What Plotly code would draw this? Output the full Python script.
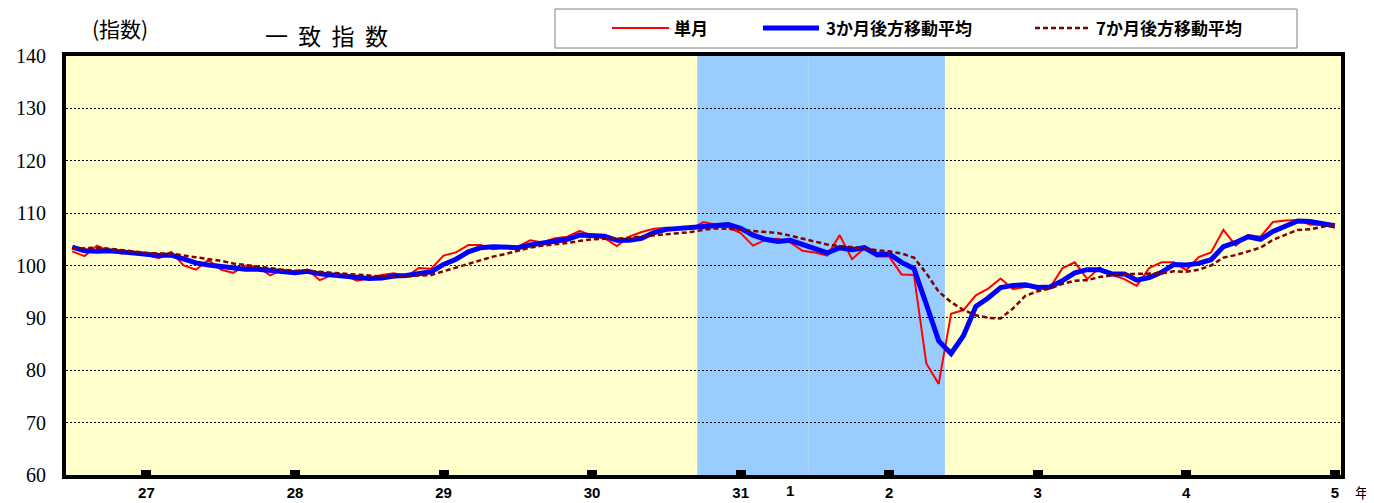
import pandas as pd
import plotly.graph_objects as go

# ---- data -------------------------------------------------------------
months = [p.strftime("%Y-%m") for p in pd.period_range("2014-07", "2023-01", freq="M")]

single_month = [
    102.7, 101.8, 103.8, 102.7, 102.3, 102.5, 102.0, 101.4, 102.6, 100.0,
    99.2, 101.1, 99.2, 98.6, 100.0, 99.7, 98.1, 99.2, 98.6, 99.2,
    97.2, 98.2, 98.1, 97.1, 97.6, 98.2, 98.5, 97.9, 99.5, 99.4,
    101.9, 102.5, 103.9, 103.9, 103.1, 103.5, 103.6, 104.8, 104.4, 105.2,
    105.5, 106.6, 105.7, 105.2, 103.7, 105.5, 106.4, 107.0, 107.2, 107.1,
    107.0, 108.3, 107.8, 107.3, 106.2, 103.8, 104.9, 105.1, 104.4, 102.8,
    102.5, 101.9, 105.8, 101.2, 103.3, 101.7, 101.7, 98.3, 98.2, 81.3,
    77.4, 90.8, 91.5, 94.3, 95.6, 97.5, 95.5, 95.9, 95.9, 95.8,
    99.5, 100.6, 97.4, 99.6, 98.2, 97.4, 96.1, 99.5, 100.6, 100.6,
    99.1, 101.6, 102.5, 106.8, 103.8, 105.8, 105.5, 108.3, 108.6, 108.7,
    107.8, 107.8, 107.2,
]

ma3 = [
    103.5, 102.8, 102.7, 102.8, 102.6, 102.4, 102.2, 101.9, 102.0, 101.2,
    100.5, 100.1, 99.8, 99.5, 99.3, 99.3, 99.0, 98.9, 98.6, 98.9,
    98.4, 98.2, 97.9, 97.7, 97.5, 97.6, 98.0, 98.1, 98.5, 98.8,
    100.2, 101.2, 102.6, 103.4, 103.6, 103.5, 103.4, 103.9, 104.2, 104.7,
    105.0, 105.8, 105.8, 105.6, 104.8, 104.8, 105.2, 106.3, 106.9, 107.1,
    107.1, 107.4, 107.7, 107.8, 107.1, 105.8, 105.0, 104.6, 104.8, 104.1,
    103.2, 102.4, 103.4, 103.0, 103.4, 102.1, 102.2, 100.6, 99.4, 92.6,
    85.6, 83.2, 86.6, 92.2, 93.8, 95.8, 96.2, 96.3, 95.8, 95.9,
    97.1, 98.6, 99.2, 99.2, 98.4, 98.4, 97.2, 97.7, 98.7, 100.2,
    100.1, 100.4, 101.1, 103.6, 104.4, 105.5, 105.0, 106.5, 107.5, 108.5,
    108.4, 108.1, 107.6,
]

ma7 = [
    103.2, 103.3, 103.4, 103.2, 102.9, 102.6, 102.4, 102.3, 102.3, 101.9,
    101.6, 101.3, 100.9, 100.4, 100.1, 99.7, 99.4, 99.2, 99.0, 99.0,
    98.8, 98.6, 98.4, 98.2, 98.0, 97.9, 97.8, 97.9, 98.1, 98.2,
    98.9, 99.6, 100.3, 101.0, 101.7, 102.2, 102.8, 103.4, 103.8, 104.0,
    104.3, 104.7, 105.0, 105.1, 105.1, 105.3, 105.5, 105.8, 106.0, 106.2,
    106.4, 106.8, 107.1, 107.0, 106.8, 106.6, 106.4, 106.2, 105.7, 105.1,
    104.6, 104.0, 103.7, 103.5, 103.3, 102.9, 102.7, 102.3, 101.5, 98.5,
    95.0, 93.0, 91.5, 90.5, 90.0, 89.9, 91.8, 94.2, 95.1, 95.6,
    96.5, 97.1, 97.2, 97.8, 98.1, 98.4, 98.4, 98.4, 98.5, 98.9,
    98.8, 99.2, 100.0, 101.5, 102.0, 102.7, 103.4, 104.9, 105.9, 106.8,
    106.9, 107.4, 107.7,
]

series_names = ["単月", "3か月後方移動平均", "7か月後方移動平均"]
series_colors = ["#FF0000", "#0000FF", "#800000"]
series_widths = [2, 5, 2.5]
series_dash = ["solid", "solid", "5px,3px"]

tick_months = ["2015-01", "2016-01", "2017-01", "2018-01", "2019-01",
               "2020-01", "2021-01", "2022-01", "2023-01"]
tick_labels = ["27", "28", "29", "30", "31", "2", "3", "4", "5"]
reiwa_month = "2019-05"
reiwa_label = "1"

# recession shading (category index boundaries)
shade_spans = [(50.5, 59.5), (59.5, 70.5)]

# ---- geometry (page pixels; the page body adds an 8px offset) ----------
OFF = 8
W, H = 1374 - OFF, 503 - OFF
ML, MR, MT, MB = 66 - OFF, 33, 56 - OFF, 28
PW, PH = W - ML - MR, H - MT - MB


def px(x):
    return (x - OFF - ML) / PW


def py(y):
    return (H - MB - (y - OFF)) / PH


# ---- figure -----------------------------------------------------------
fig = go.Figure()
for name, vals, col, wd, ds in zip(series_names, [single_month, ma3, ma7],
                                   series_colors, series_widths, series_dash):
    fig.add_trace(go.Scatter(x=months, y=vals, name=name, mode="lines",
                             line=dict(color=col, width=wd, dash=ds), showlegend=False))

for x0, x1 in shade_spans:
    fig.add_shape(type="rect", xref="x", yref="paper", x0=x0, x1=x1, y0=0, y1=1,
                  fillcolor="#99CCFF", line=dict(width=0), layer="between")

jp = "Noto Sans CJK JP"
xfont = dict(family="Liberation Sans Narrow, Liberation Sans, Arial", size=15,
             color="black", weight="bold")

fig.update_layout(
    width=W, height=H,
    margin=dict(l=ML, r=MR, t=MT, b=MB),
    paper_bgcolor="white", plot_bgcolor="#FFFFCC",
    showlegend=False,
    xaxis=dict(type="category", range=[-0.5, 102.5], automargin=False,
               tickmode="array", tickvals=tick_months, ticktext=tick_labels,
               ticks="inside", ticklen=5, tickwidth=10, tickcolor="black",
               showgrid=False, showline=True, linewidth=4, linecolor="black", mirror=True,
               tickfont=xfont, ticklabelstandoff=1, zeroline=False),
    yaxis=dict(range=[60, 140], automargin=False, tickmode="array",
               tickvals=list(range(60, 141, 10)),
               ticks="", showgrid=True, gridcolor="black", griddash="2px,2px", gridwidth=1,
               showline=True, linewidth=4, linecolor="black", mirror=True,
               tickfont=dict(family="Liberation Serif, Times New Roman, serif", size=20,
                             color="black"),
               ticklabelstandoff=12, zeroline=False),
)

# ---- legend (drawn box with sample lines and labels) -------------------
fig.add_shape(type="rect", xref="paper", yref="paper", x0=px(555), x1=px(1297),
              y0=py(48), y1=py(9), fillcolor="white", line=dict(color="#808080", width=1),
              layer="above")
leg_line_x = [(612, 669), (763, 819), (1035, 1091)]
leg_text_x = [672, 824, 1094]
for (lx0, lx1), tx, name, col, wd, ds in zip(leg_line_x, leg_text_x, series_names,
                                              series_colors, series_widths, series_dash):
    fig.add_shape(type="line", xref="paper", yref="paper", x0=px(lx0), x1=px(lx1),
                  y0=py(28), y1=py(28), line=dict(color=col, width=wd, dash=ds),
                  layer="above")
    fig.add_annotation(x=px(tx), xref="paper", y=py(28), yref="paper", xanchor="left",
                       yanchor="middle", text=name, showarrow=False,
                       font=dict(family=jp, size=17, color="black", weight="bold"))

# ---- texts -----------------------------------------------------------
fig.add_annotation(x=reiwa_month, xref="x", y=py(491), yref="paper", yanchor="middle",
                   text=reiwa_label, showarrow=False, font=xfont)
fig.add_annotation(x=px(1353), xref="paper", y=py(492), yref="paper", xanchor="left",
                   yanchor="middle", text="年", showarrow=False,
                   font=dict(family=jp, size=14, color="black"))
fig.add_annotation(x=px(120), xref="paper", y=py(28), yref="paper", xanchor="center",
                   yanchor="middle", text="(指数)", showarrow=False,
                   font=dict(family=jp, size=21, color="black"))
fig.add_annotation(x=px(326), xref="paper", y=py(35), yref="paper", xanchor="center",
                   yanchor="middle", text="一\u00a0\u00a0致\u00a0\u00a0指\u00a0\u00a0数",
                   showarrow=False, font=dict(family=jp, size=23, color="black"))

fig.write_html("out.html")
